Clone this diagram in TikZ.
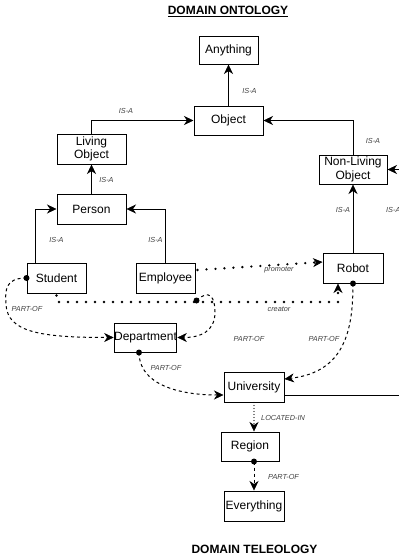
\documentclass[tikz,border=0pt]{standalone}
\usepackage{fontspec}
\setmainfont{Liberation Sans}
\usetikzlibrary{arrows.meta,calc}
\begin{document}
\begin{tikzpicture}[x=1pt,y=-1pt,
  box/.style={draw, line width=1pt, inner sep=0pt, align=center, font=\fontsize{12}{13.5}\selectfont},
  lbl/.style={font=\fontsize{7.3}{8}\selectfont\itshape, text=black!75, inner sep=0pt},
  arr/.style={-{Stealth[length=9.5pt,width=9pt,inset=3pt,line width=0.6pt]}},
  solidc/.style={draw, line width=1pt, arr},
  dotbig/.style={draw, line width=2.6pt, dash pattern=on 0pt off 9pt, line cap=round, arr},
  dotsmall/.style={draw, line width=1.2pt, dash pattern=on 0pt off 3pt, line cap=round, arr},
  dashc/.style={draw, line width=1pt, dash pattern=on 3pt off 3pt, arr},
  ttl/.style={font=\fontsize{12}{14}\selectfont\bfseries, inner sep=0pt, anchor=base}
]
\useasboundingbox (0,0) rectangle (399,555);

% titles
\node[ttl] (t1) at (228,14.6) {\underline{DOMAIN ONTOLOGY}};
\node[ttl] (t2) at (254.5,553) {DOMAIN TELEOLOGY};

% boxes
\node[box, minimum width=59pt, minimum height=28pt] (anything) at (228.5,50) {Anything};
\node[box, minimum width=69pt, minimum height=29pt] (object) at (228.5,120.5) {Object};
\node[box, minimum width=69pt, minimum height=30pt] (living) at (91.5,149) {Living\\Object};
\node[box, minimum width=68pt, minimum height=29pt] (nonliving) at (353,169.5) {Non-Living\\Object};
\node[box, minimum width=69pt, minimum height=30pt] (person) at (91.5,209) {Person};
\node[box, minimum width=59pt, minimum height=30pt] (student) at (56.5,278) {Student};
\node[box, minimum width=59pt, minimum height=30pt] (employee) at (165.5,278) {Employee};
\node[box, minimum width=60pt, minimum height=30pt] (robot) at (353,268) {Robot};
\node[box, minimum width=59pt, minimum height=29pt] (department) at (145.5,337.5) {Department};
\node[box, minimum width=60pt, minimum height=30pt] (university) at (254,387) {University};
\node[box, minimum width=58pt, minimum height=29pt] (region) at (250,446.5) {Region};
\node[box, minimum width=60pt, minimum height=30pt] (everything) at (254,506) {Everything};

% IS-A hierarchy
\draw[solidc] (object.north) -- (anything.south);
\draw[solidc] (living.north) |- (object.west);
\draw[solidc] (nonliving.north) |- (object.east);
\draw[solidc] (person.north) -- (living.south);
\draw[solidc] ($(student.north west)+(9,0)$) |- (person.west);
\draw[solidc] (employee.north) |- (person.east);
\draw[solidc] (robot.north) -- (nonliving.south);
\coordinate (eR) at (399,169.5);
\draw[solidc] (eR) -- (nonliving.east);
\coordinate (eU) at (399,395);
\draw[line width=1pt] (university.east |- eU) -- (eU);

% promoter / creator
\draw[dotbig] ($(employee.east)+(2,-8)$) -- ($(robot.west)+(0,-6)$);
\coordinate (cr) at (338,302);
\draw[dotbig] ($(student.south)+(0,2)$) |- (cr) -- (robot.south -| cr);

% PART-OF
\fill (student.west) circle (3);
\draw[dashc] (student.west) .. controls (5,278) and (5,290) .. (6,305) .. controls (8,332) and (40,337.5) .. (department.west);
\coordinate (es) at ($(employee.south east)+(1,7)$);
\fill (es) circle (3);
\draw[dashc] (es) .. controls (210,288) and (215,298) .. (215,312) .. controls (215,332) and (200,337.5) .. (department.east);
\fill (robot.south) circle (3);
\draw[dashc] (robot.south) .. controls (353,330) and (345,372) .. ($(university.east)+(0,-8)$);
\coordinate (ds) at ($(department.south)+(-6.5,0)$);
\fill (ds) circle (3);
\draw[dashc] (ds) .. controls (139,385) and (180,395) .. ($(university.west)+(0,8)$);
\draw[dotsmall] (university.south) -- (university.south |- region.north);
\coordinate (rs) at (region.south -| everything.north);
\fill (rs) circle (3);
\draw[dashc] (rs) -- (everything.north);

% labels
\node[lbl] (l1) at (249.5,91) {IS-A};
\node[lbl] (l2) at (126,111) {IS-A};
\node[lbl] (l3) at (106.5,180) {IS-A};
\node[lbl] (l4) at (56.5,239.5) {IS-A};
\node[lbl] (l5) at (155.5,239.5) {IS-A};
\node[lbl] (l6) at (373,141) {IS-A};
\node[lbl] (l7) at (343,210) {IS-A};
\node[lbl, anchor=west] (l8) at (386,210) {IS-A};
\node[lbl] (l9) at (279,269.5) {promoter};
\node[lbl] (l10) at (279,309) {creator};
\node[lbl] (l11) at (27,309) {PART-OF};
\node[lbl] (l12) at (249,339) {PART-OF};
\node[lbl] (l13) at (324,339) {PART-OF};
\node[lbl] (l14) at (166,368) {PART-OF};
\node[lbl, anchor=west] (l15) at (261,418) {LOCATED-IN};
\node[lbl, anchor=west] (l16) at (268,477) {PART-OF};
\end{tikzpicture}
\end{document}
